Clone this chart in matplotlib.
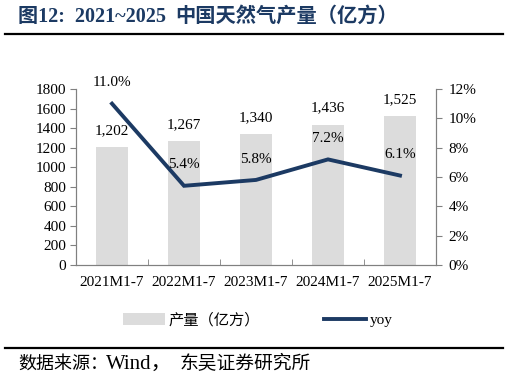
import matplotlib
matplotlib.use("Agg")
import matplotlib.pyplot as plt
from matplotlib.lines import Line2D
from matplotlib.patches import Patch
import numpy as np

plt.rcParams['font.family'] = ['Liberation Serif', 'Noto Sans CJK SC', 'DejaVu Sans']

categories = ["2021M1-7", "2022M1-7", "2023M1-7", "2024M1-7", "2025M1-7"]
production = [1202, 1267, 1340, 1436, 1525]
yoy = [11.0, 5.4, 5.8, 7.2, 6.1]
prod_labels = ["1,202", "1,267", "1,340", "1,436", "1,525"]

W, H = 509, 382
fig = plt.figure(figsize=(W/100, H/100), dpi=100)
ax = fig.add_axes([76/W, 1-265/H, (436-76)/W, (265-89)/H])
ax2 = ax.twinx()

x = np.arange(len(categories))
bar_color = "#dcdcdc"
line_color = "#1c3a63"
ax.bar(x, production, width=0.45, color=bar_color, zorder=1)
ax.set_ylim(0, 1800)
ax.set_yticks(np.arange(0, 1801, 200))
ax.set_xlim(-0.5, len(categories)-0.5)
ax.set_xticks(x)
ax.set_xticklabels(categories)
ax.set_xticks(np.arange(-0.5, len(categories), 1), minor=True)
ax.tick_params(axis='x', which='major', length=0, pad=8, labelsize=11)
ax.tick_params(axis='x', which='minor', length=4, direction='in', color='#808080')
ax.tick_params(axis='y', length=4, direction='out', color='#808080', labelsize=11, pad=3)

for i, (v, lab) in enumerate(zip(production, prod_labels)):
    ax.annotate(lab, (x[i], v), xytext=(0, 12), textcoords='offset points',
                ha='center', va='center', fontsize=11)

ax2.plot(x, yoy, color=line_color, lw=2.8, zorder=3, solid_joinstyle='miter')
ax2.set_ylim(0, 12)
ax2.set_yticks(np.arange(0, 13, 2))
ax2.set_yticklabels([f"{v}%" for v in range(0, 13, 2)])
ax2.tick_params(axis='y', length=4, direction='out', color='#808080', labelsize=11, pad=5)
for i, v in enumerate(yoy):
    ax2.annotate(f"{v:.1f}%", (x[i], v), xytext=(0, 15), textcoords='offset points',
                 ha='center', va='center', fontsize=11)

for a in (ax, ax2):
    a.spines['top'].set_visible(False)
    for s in ('left', 'right', 'bottom'):
        a.spines[s].set_color('#808080')
        a.spines[s].set_linewidth(0.8)

# legend
handles = [Patch(facecolor=bar_color, edgecolor='none', label='产量（亿方）'),
           Line2D([0], [0], color=line_color, lw=2.8, label='yoy')]
fig.legend(handles=handles, loc='center', bbox_to_anchor=(258/W, 1-320/H), ncol=2,
           frameon=False, fontsize=11, handlelength=2.75, handleheight=0.8,
           columnspacing=4.2, handletextpad=0.25)

# title and source
fig.text(18/W, 1-17/H, "图12:  2021~2025", fontsize=14.5,
         fontweight='bold', color='#1c3a63', va='center', ha='left')
t_title2 = fig.text(175/W, 1-17/H, "中国天然气产量（亿方）", fontsize=14.6,
                    fontweight='bold', color='#1c3a63', va='center', ha='left')
fig.add_artist(Line2D([5/W, 503/W], [1-34/H, 1-34/H], color='black', lw=1.6))
fig.add_artist(Line2D([5/W, 503/W], [1-348/H, 1-348/H], color='black', lw=1.6))
fig.text(18/W, 1-364/H, "数据来源：", fontsize=13,
         color='black', va='center', ha='left')
fig.text(106/W, 1-364/H, "Wind，", fontsize=15,
         color='black', va='center', ha='left')
fig.text(180/W, 1-364/H, "东吴证券研究所", fontsize=13.5,
         color='black', va='center', ha='left')

fig.savefig("out.png", dpi=100)
